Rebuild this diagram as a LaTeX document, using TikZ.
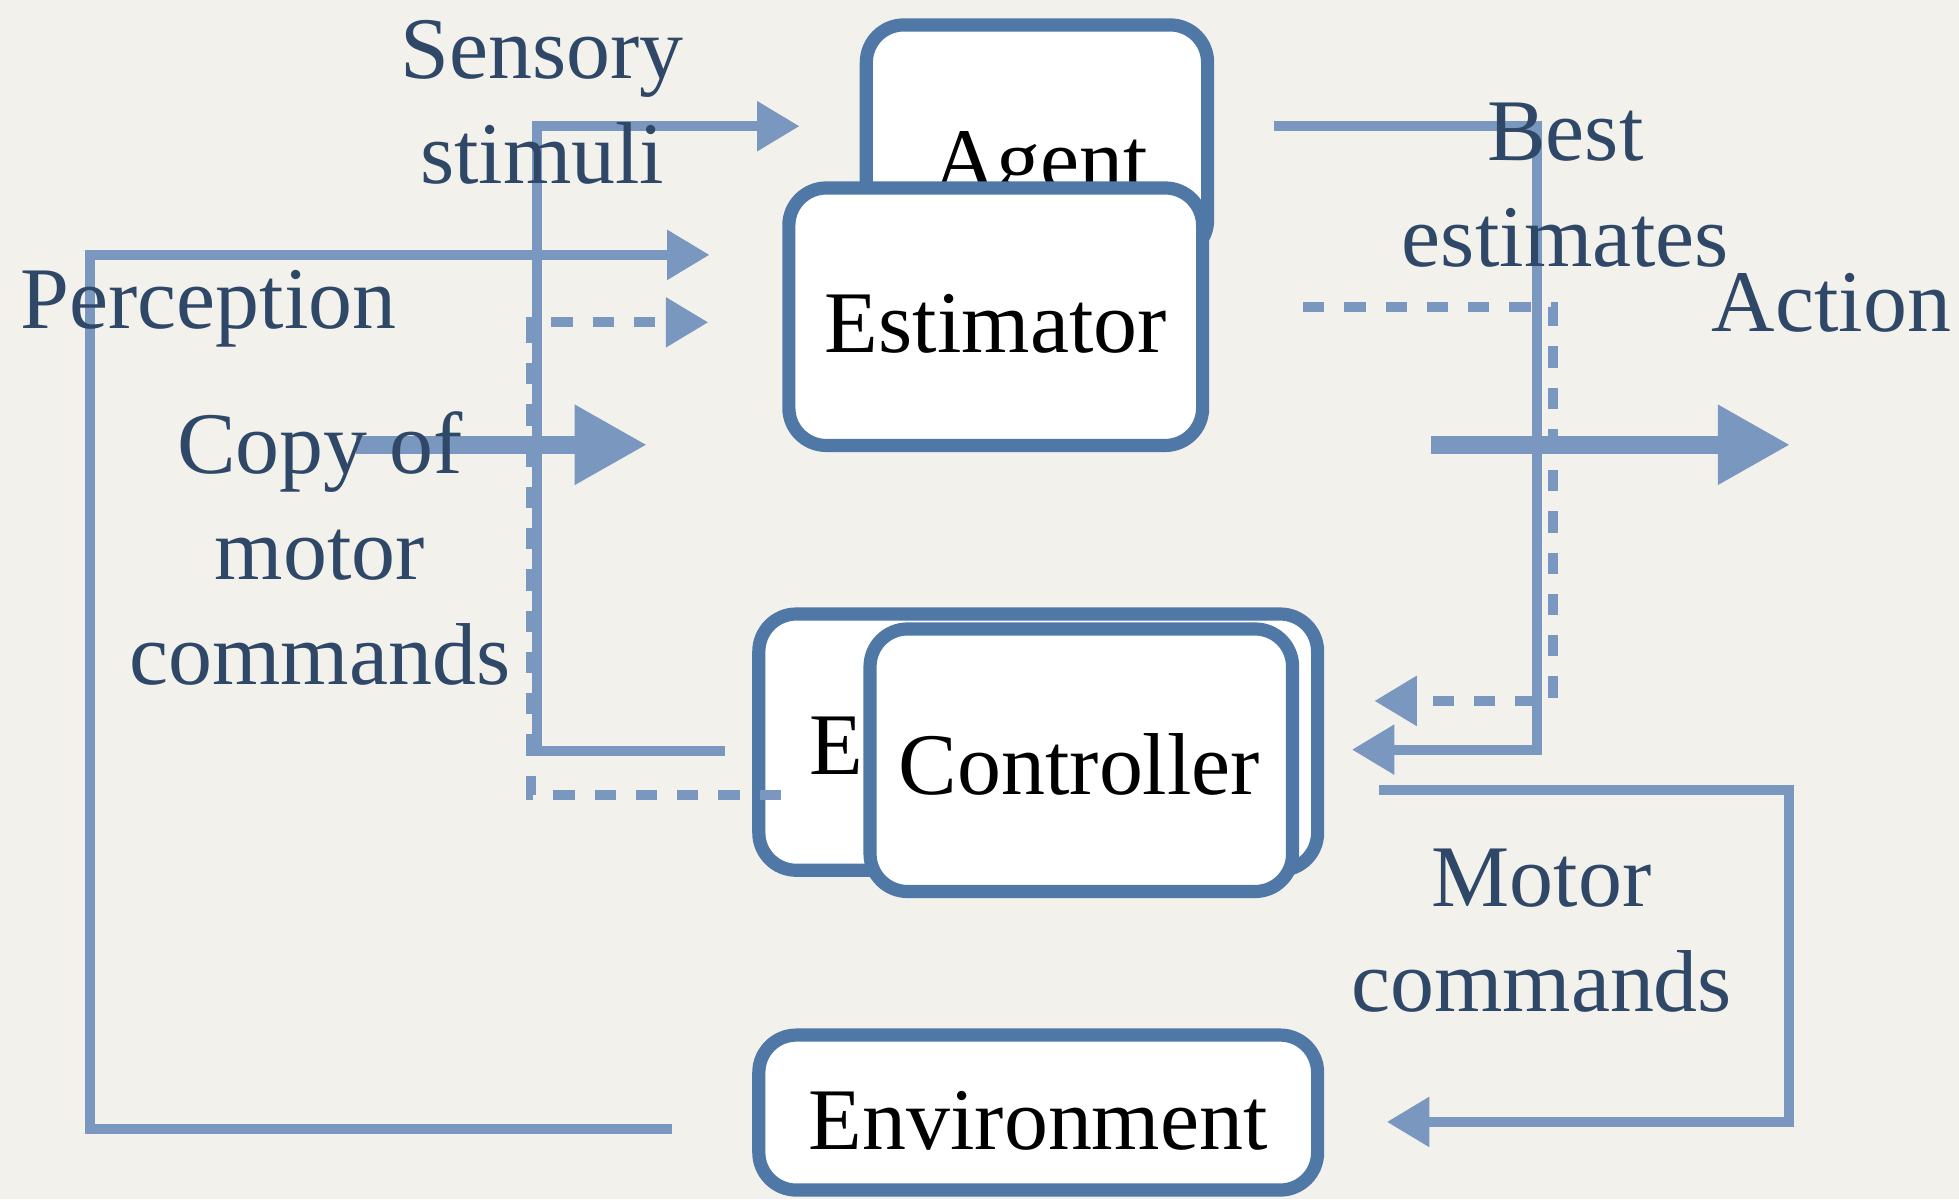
\documentclass[tikz,border=0pt]{standalone}
\usepackage{fontspec}
\setmainfont{Liberation Serif}
\usetikzlibrary{arrows.meta}
\definecolor{bgc}{RGB}{243,241,236}
\definecolor{boxc}{RGB}{79,120,166}
\definecolor{linec}{RGB}{122,152,191}
\definecolor{labc}{RGB}{48,72,103}
\newcommand{\fs}{\fontsize{20}{24}\selectfont}
\tikzset{
  box/.style={draw=boxc, line width=3pt, fill=white, rounded corners=0.3cm, inner sep=0pt},
  boxtxt/.style={text=black, font=\fs, inner sep=0pt, anchor=base},
  lbl/.style={text=labc, font=\fs, inner sep=0pt, align=center, anchor=base},
  conn/.style={draw=linec, line width=2.3pt},
  thick conn/.style={draw=linec, line width=4.2pt},
  dashconn/.style={draw=linec, line width=2.3pt, dash pattern=on 0.17cm off 0.16cm},
  tipsm/.style={-{Triangle[length=0.34cm,width=0.38cm]}},
  tipbig/.style={-{Triangle[length=0.58cm,width=0.6cm]}},
}
\begin{document}
\begin{tikzpicture}[x=0.01cm,y=-0.01cm]
\fill[bgc] (0,0) rectangle (1568,960);
\useasboundingbox (0,0) rectangle (1568,960);

% boxes
\node[box, minimum width=2.73cm, minimum height=1.86cm] (agent) at (830,113) {};
\node[boxtxt] (agenttxt) at (833,152) {Agent};
\node[box, minimum width=3.31cm, minimum height=2.06cm] (est) at (797,253.5) {};
\node[boxtxt] (esttxt) at (797,282) {Estimator};

\node[box, minimum width=4.47cm, minimum height=2.05cm] (estb) at (831,594) {};
\node[boxtxt, anchor=base west] (estbtxt) at (647,620) {Estimator};
\node[box, minimum width=3.38cm, minimum height=2.10cm] (ctrl) at (865.5,608.5) {};
\node[boxtxt] (ctrltxt) at (864,636) {Controller};

\node[box, minimum width=4.47cm, minimum height=1.24cm] (env) at (831,890.5) {};
\node[boxtxt] (envtxt) at (831,920) {Environment};

% connector ends
\coordinate (ssA) at (580,601);
\coordinate (ssB) at (640,101);
\coordinate (dlA) at (625,636);
\coordinate (dlB) at (567,258);
\coordinate (peA) at (538,904);
\coordinate (peB) at (568,204);
\coordinate (cpA) at (285,356);
\coordinate (cpB) at (518,356);
\coordinate (acA) at (1145,356);
\coordinate (acB) at (1433,356);
\coordinate (beA) at (1020,101);
\coordinate (beB) at (1082,600);
\coordinate (drA) at (1043,246);
\coordinate (drB) at (1100,561);
\coordinate (moA) at (1104,632);
\coordinate (moB) at (1110,898);

% connectors
\draw[conn, tipsm] (ssA) -- (430,601) -- (430,101) -- (ssB);
\draw[dashconn, tipsm] (dlA) -- (425,636) -- (425,258) -- (dlB);
\draw[conn, tipsm] (peA) -- (72,904) -- (72,204) -- (peB);
\draw[thick conn, tipbig] (cpA) -- (cpB);
\draw[thick conn, tipbig] (acA) -- (acB);
\draw[conn, tipsm] (beA) -- (1230,101) -- (1230,600) -- (beB);
\draw[dashconn, tipsm] (drA) -- (1243,246) -- (1243,561) -- (drB);
\draw[conn, tipsm] (moA) -- (1432,632) -- (1432,898) -- (moB);

% labels (base anchor = baseline of last line)
\node[lbl] (lss) at (434,147) {Sensory\\stimuli};
\node[lbl] (lpe) at (167,263) {Perception};
\node[lbl] (lcp) at (256,548) {Copy of\\motor\\commands};
\node[lbl] (lbe) at (1253,213) {Best\\estimates};
\node[lbl] (lac) at (1466,265) {Action};
\node[lbl] (lmo) at (1234,810) {Motor\\commands};
\end{tikzpicture}
\end{document}
